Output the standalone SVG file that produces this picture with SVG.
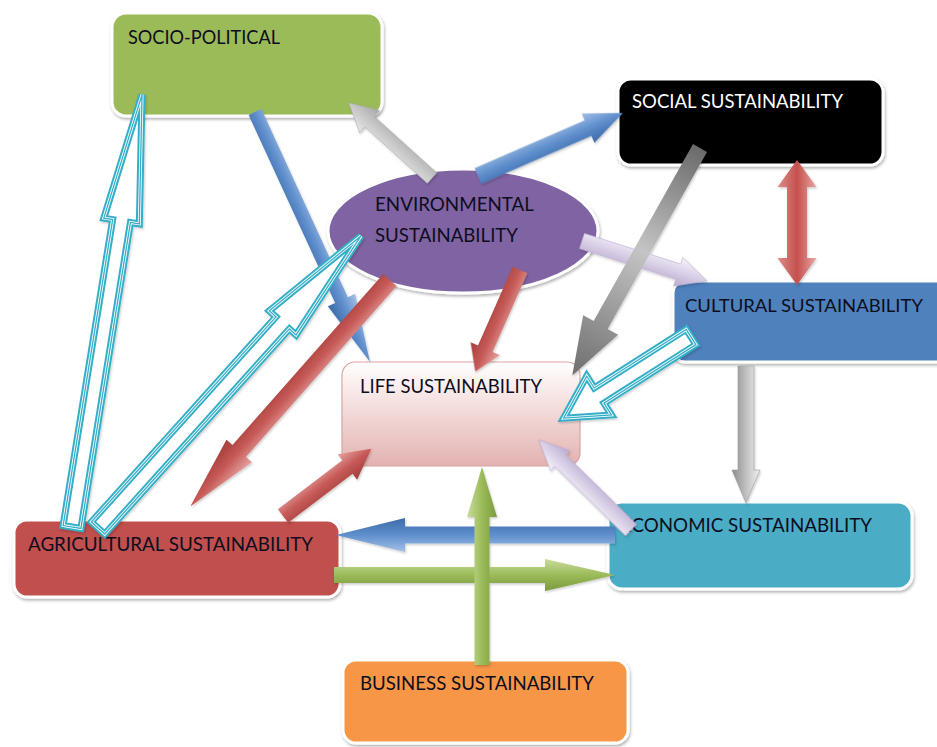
<svg xmlns="http://www.w3.org/2000/svg" xmlns:xlink="http://www.w3.org/1999/xlink" width="937" height="747" viewBox="0 0 937 747">
<style>
  .lbl { font-family: Lato, "Liberation Sans", "DejaVu Sans", sans-serif; font-size: 20px; fill: #0d0d20; }
  .lblw { font-family: Lato, "Liberation Sans", "DejaVu Sans", sans-serif; font-size: 20px; fill: #ffffff; }
  .box { stroke: #ffffff; stroke-width: 3; filter: url(#sh); }
  .h1 { fill: #ffffff; stroke: #36AFC8; stroke-width: 7; stroke-linejoin: miter; }
  .h2 { fill: none; stroke: #ffffff; stroke-width: 3; stroke-linejoin: miter; }
  .h3 { fill: none; stroke: #36AFC8; stroke-width: 1.3; stroke-linejoin: miter; }
</style>
<defs>
  <filter id="sh" x="-10%" y="-10%" width="120%" height="130%">
    <feDropShadow dx="1" dy="2" stdDeviation="1.5" flood-color="#000" flood-opacity="0.3"/>
  </filter>
  <filter id="ash" x="-10%" y="-30%" width="120%" height="160%">
    <feDropShadow dx="1" dy="1.5" stdDeviation="1" flood-color="#000" flood-opacity="0.2"/>
  </filter>
  <linearGradient id="lifeG" x1="0" y1="0" x2="0" y2="1">
    <stop offset="0" stop-color="#ffffff"/>
    <stop offset="0.45" stop-color="#F3DCDB"/>
    <stop offset="1" stop-color="#E3B2B1"/>
  </linearGradient>
  <linearGradient id="blueG" x1="0" y1="0" x2="0" y2="1">
    <stop offset="0" stop-color="#A4C0E4"/>
    <stop offset="0.5" stop-color="#5F8FCD"/>
    <stop offset="1" stop-color="#3C6AA8"/>
  </linearGradient>
  <linearGradient id="grayG" x1="0" y1="0" x2="0" y2="1">
    <stop offset="0" stop-color="#E6E6E6"/>
    <stop offset="0.5" stop-color="#C8C8C8"/>
    <stop offset="1" stop-color="#A8A8A8"/>
  </linearGradient>
  <linearGradient id="dgrayG" x1="0" y1="0" x2="1" y2="0">
    <stop offset="0" stop-color="#6A6A6A"/>
    <stop offset="0.45" stop-color="#C4C4C4"/>
    <stop offset="1" stop-color="#6E6E6E"/>
  </linearGradient>
  <linearGradient id="vgrayG" x1="0" y1="0" x2="0" y2="1">
    <stop offset="0" stop-color="#F0F0F0"/>
    <stop offset="0.5" stop-color="#C0C0C0"/>
    <stop offset="1" stop-color="#8C8C8C"/>
  </linearGradient>
  <linearGradient id="redG" x1="0" y1="0" x2="0" y2="1">
    <stop offset="0" stop-color="#E6A3A1"/>
    <stop offset="0.5" stop-color="#C65A57"/>
    <stop offset="1" stop-color="#A43E3B"/>
  </linearGradient>
  <linearGradient id="red2G" x1="0" y1="0" x2="0" y2="1">
    <stop offset="0" stop-color="#E7A7A5"/>
    <stop offset="0.5" stop-color="#C4504D"/>
    <stop offset="1" stop-color="#DC8E8B"/>
  </linearGradient>
  <linearGradient id="lavG" x1="0" y1="0" x2="0" y2="1">
    <stop offset="0" stop-color="#F6F3FA"/>
    <stop offset="0.5" stop-color="#D9CFE6"/>
    <stop offset="1" stop-color="#B9A9CE"/>
  </linearGradient>
  <linearGradient id="greenG" x1="0" y1="0" x2="0" y2="1">
    <stop offset="0" stop-color="#C9DC9E"/>
    <stop offset="0.5" stop-color="#9BBB59"/>
    <stop offset="1" stop-color="#7A9A3E"/>
  </linearGradient>
  <path id="c9" d="M0,-9 H310 V-18 L438,0 L310,18 V9 H0 Z" transform="translate(72,527) rotate(-80.8)"/>
  <path id="c10" d="M0,-9 H276 V-18 L393,0 L276,18 V9 H0 Z" transform="translate(98,528) rotate(-48)"/>
  <path id="c11" d="M0,-9 H109 V-23 L151,0 L109,23 V9 H0 Z" transform="translate(691,337) rotate(147.5)"/>
</defs>

<rect width="937" height="747" fill="#ffffff"/>

<g id="node-socio-political">
  <rect class="box" x="112" y="13" width="270" height="103" rx="14" fill="#9BBB59"/>
  <text class="lbl" x="128" y="44" textLength="152" lengthAdjust="spacingAndGlyphs">SOCIO-POLITICAL</text>
</g>
<g id="node-social">
  <rect class="box" x="618" y="79" width="265" height="86" rx="13" fill="#000000"/>
  <text class="lblw" x="632" y="108" textLength="211" lengthAdjust="spacingAndGlyphs">SOCIAL SUSTAINABILITY</text>
</g>
<g id="node-environmental">
  <ellipse class="box" cx="463" cy="231" rx="135" ry="62" fill="#8064A2" stroke-width="4"/>
  <text class="lbl" x="375" y="211" textLength="159" lengthAdjust="spacingAndGlyphs">ENVIRONMENTAL</text>
  <text class="lbl" x="375" y="242" textLength="143" lengthAdjust="spacingAndGlyphs">SUSTAINABILITY</text>
</g>
<g id="node-cultural">
  <rect class="box" x="673" y="281" width="290" height="81" rx="12" fill="#4F81BD"/>
  <text class="lbl" x="685" y="312" style="font-size:18px" textLength="238" lengthAdjust="spacingAndGlyphs">CULTURAL SUSTAINABILITY</text>
</g>
<g id="node-life">
  <rect x="342" y="362" width="238" height="104" rx="13" fill="url(#lifeG)" stroke="#D9A3A2" stroke-width="1.2"/>
  <text class="lbl" x="360" y="393" textLength="182" lengthAdjust="spacingAndGlyphs">LIFE SUSTAINABILITY</text>
</g>
<g id="node-agricultural">
  <rect class="box" x="14" y="520" width="326" height="77" rx="13" fill="#C0504D"/>
  <text class="lbl" x="28" y="551" textLength="285" lengthAdjust="spacingAndGlyphs">AGRICULTURAL SUSTAINABILITY</text>
</g>
<g id="node-economic">
  <rect class="box" x="608" y="502" width="304" height="87" rx="14" fill="#4BACC6"/>
  <text class="lbl" x="621" y="532" textLength="251" lengthAdjust="spacingAndGlyphs">ECONOMIC SUSTAINABILITY</text>
</g>
<g id="node-business">
  <rect class="box" x="343" y="660" width="285" height="83" rx="13" fill="#F79646"/>
  <text class="lbl" x="360" y="690" textLength="234" lengthAdjust="spacingAndGlyphs">BUSINESS SUSTAINABILITY</text>
</g>

<g id="connectors" filter="url(#ash)">
  <path id="a-sp-life" fill="url(#blueG)" d="M0,-7 H207 V-15 L275,0 L207,15 V7 H0 Z" transform="translate(255,112) rotate(65.3)"/>
  <path id="a-env-sp" fill="url(#grayG)" stroke="#B0B0B0" stroke-width="0.6" d="M0,-7 H84 V-15 L112,0 L84,15 V7 H0 Z" transform="translate(432,178) rotate(-137.9)"/>
  <path id="a-env-social" fill="url(#blueG)" d="M0,-8.5 H120 V-16 L158,0 L120,16 V8.5 H0 Z" transform="translate(478,176) rotate(-23.5)"/>
  <path id="a-env-cultural" fill="url(#lavG)" stroke="#C0B2D4" stroke-width="0.6" d="M0,-8 H101 V-15 L131,0 L101,15 V8 H0 Z" transform="translate(582,241) rotate(17.7)"/>
  <path id="a-social-life" fill="url(#dgrayG)" d="M0,-8 H203 V-20 L261,0 L203,20 V8 H0 Z" transform="translate(700,148) rotate(119.3)"/>
  <path id="a-social-cultural" fill="url(#red2G)" d="M0,0 L27,-19.5 V-10 H98 V-19.5 L125,0 L98,19.5 V10 H27 V19.5 Z" transform="translate(797,160) rotate(90)"/>
  <path id="a-env-life" fill="url(#redG)" d="M0,-8 H86 V-16 L111,0 L86,16 V8 H0 Z" transform="translate(520,270) rotate(113.8)"/>
  <g id="a-agri-env">
    <use href="#c10" class="h1"/><use href="#c10" class="h2"/><use href="#c10" class="h3"/>
  </g>
  <g id="a-agri-sp">
    <use href="#c9" class="h1"/><use href="#c9" class="h2"/><use href="#c9" class="h3"/>
  </g>
  <path id="a-env-agri" fill="url(#redG)" d="M0,-9 H228 V-17 L302,0 L228,17 V9 H0 Z" transform="translate(390,280) rotate(131.4)"/>
  <g id="a-cultural-life">
    <use href="#c11" class="h1"/><use href="#c11" class="h2"/><use href="#c11" class="h3"/>
  </g>
  <path id="a-cultural-economic" fill="url(#vgrayG)" stroke="#9A9A9A" stroke-width="0.6" d="M0,-8 H104 V-14 L137,0 L104,14 V8 H0 Z" transform="translate(746,366) rotate(90)"/>
  <path id="a-agri-life" fill="url(#redG)" d="M0,-8.5 H81 V-16 L111,0 L81,16 V8.5 H0 Z" transform="translate(283,516) rotate(-37.3)"/>
  <path id="a-economic-agri" fill="url(#blueG)" d="M0,-8.5 H210 V-17 L279,0 L210,17 V8.5 H0 Z" transform="translate(615,535) rotate(180)"/>
  <path id="a-economic-life" fill="url(#lavG)" stroke="#B8A8CC" stroke-width="0.6" d="M0,-8 H99 V-14 L129,0 L99,14 V8 H0 Z" transform="translate(631,530) rotate(-135.6)"/>
  <path id="a-agri-economic" fill="url(#greenG)" d="M0,-8 H211 V-16 L281,0 L211,16 V8 H0 Z" transform="translate(334,575)"/>
  <path id="a-business-life" fill="url(#greenG)" d="M0,-7.5 H148 V-15 L198,0 L148,15 V7.5 H0 Z" transform="translate(482,665) rotate(-90)"/>
</g>
</svg>
